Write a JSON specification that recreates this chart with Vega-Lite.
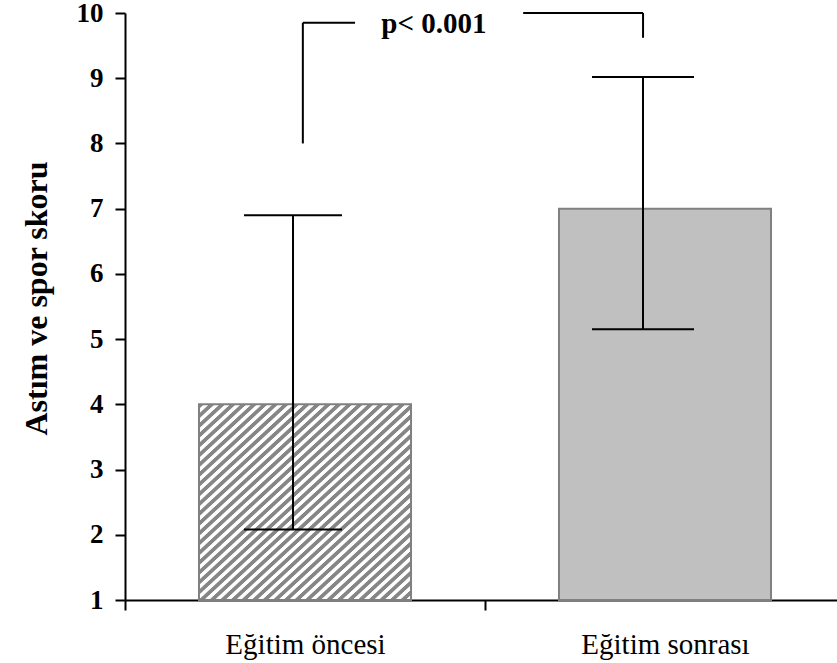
{
  "$schema": "https://vega.github.io/schema/vega-lite/v6.json",
  "width": 712,
  "height": 587,
  "autosize": "none",
  "padding": {"left": 125, "top": 13, "right": 0, "bottom": 63},
  "background": "white",
  "config": {
    "view": {"stroke": null},
    "font": "Liberation Serif",
    "style": {
      "guide-label": {"font": "Liberation Serif", "fill": "black"},
      "guide-title": {"font": "Liberation Serif", "fill": "black"}
    }
  },
  "datasets": {
    "scores": [
      {"group": "Eğitim öncesi", "mean": 4, "low": 2.08, "high": 6.9},
      {"group": "Eğitim sonrası", "mean": 7, "low": 5.15, "high": 9.02}
    ],
    "bracket": [
      {"x": 0.494, "x2": 0.494, "y": 8.0, "y2": 9.85},
      {"x": 0.494, "x2": 0.639, "y": 9.85, "y2": 9.85},
      {"x": 1.106, "x2": 1.439, "y": 10.0, "y2": 10.0},
      {"x": 1.439, "x2": 1.439, "y": 10.0, "y2": 9.62}
    ],
    "note": [
      {"x": 0.858, "y": 9.69, "label": "p< 0.001"}
    ]
  },
  "layer": [
    {
      "data": {"name": "scores"},
      "encoding": {
        "x": {
          "field": "group",
          "type": "nominal",
          "sort": ["Eğitim öncesi", "Eğitim sonrası"],
          "scale": {"range": [0, 720], "paddingInner": 0, "paddingOuter": 0},
          "axis": {
            "title": null,
            "labelAngle": 0,
            "labelFont": "Liberation Serif",
            "labelFontSize": 29,
            "labelFontWeight": "normal",
            "labelColor": "black",
            "labelBaseline": "alphabetic",
            "labelPadding": 43,
            "domainColor": "black",
            "domainWidth": 2,
            "tickColor": "black",
            "tickWidth": 2,
            "tickSize": 10,
            "tickBand": "extent",
            "grid": false
          }
        }
      },
      "layer": [
        {
          "transform": [{"filter": "datum.group === 'Eğitim öncesi'"}],
          "mark": {
            "type": "bar",
            "width": {"band": 0.589},
            "stroke": "#808080",
            "strokeWidth": 2,
            "fill": {
              "gradient": "linear",
              "x1": 0, "y1": 0, "x2": 1, "y2": 1,
              "stops": [
                {"offset": 0, "color": "#868686"}, {"offset": 0.0105, "color": "#868686"}, {"offset": 0.013, "color": "#ffffff"}, {"offset": 0.0225, "color": "#ffffff"},
                {"offset": 0.025, "color": "#868686"}, {"offset": 0.0355, "color": "#868686"}, {"offset": 0.038, "color": "#ffffff"}, {"offset": 0.0475, "color": "#ffffff"},
                {"offset": 0.05, "color": "#868686"}, {"offset": 0.0605, "color": "#868686"}, {"offset": 0.063, "color": "#ffffff"}, {"offset": 0.0725, "color": "#ffffff"},
                {"offset": 0.075, "color": "#868686"}, {"offset": 0.0855, "color": "#868686"}, {"offset": 0.088, "color": "#ffffff"}, {"offset": 0.0975, "color": "#ffffff"},
                {"offset": 0.1, "color": "#868686"}, {"offset": 0.1105, "color": "#868686"}, {"offset": 0.113, "color": "#ffffff"}, {"offset": 0.1225, "color": "#ffffff"},
                {"offset": 0.125, "color": "#868686"}, {"offset": 0.1355, "color": "#868686"}, {"offset": 0.138, "color": "#ffffff"}, {"offset": 0.1475, "color": "#ffffff"},
                {"offset": 0.15, "color": "#868686"}, {"offset": 0.1605, "color": "#868686"}, {"offset": 0.163, "color": "#ffffff"}, {"offset": 0.1725, "color": "#ffffff"},
                {"offset": 0.175, "color": "#868686"}, {"offset": 0.1855, "color": "#868686"}, {"offset": 0.188, "color": "#ffffff"}, {"offset": 0.1975, "color": "#ffffff"},
                {"offset": 0.2, "color": "#868686"}, {"offset": 0.2105, "color": "#868686"}, {"offset": 0.213, "color": "#ffffff"}, {"offset": 0.2225, "color": "#ffffff"},
                {"offset": 0.225, "color": "#868686"}, {"offset": 0.2355, "color": "#868686"}, {"offset": 0.238, "color": "#ffffff"}, {"offset": 0.2475, "color": "#ffffff"},
                {"offset": 0.25, "color": "#868686"}, {"offset": 0.2605, "color": "#868686"}, {"offset": 0.263, "color": "#ffffff"}, {"offset": 0.2725, "color": "#ffffff"},
                {"offset": 0.275, "color": "#868686"}, {"offset": 0.2855, "color": "#868686"}, {"offset": 0.288, "color": "#ffffff"}, {"offset": 0.2975, "color": "#ffffff"},
                {"offset": 0.3, "color": "#868686"}, {"offset": 0.3105, "color": "#868686"}, {"offset": 0.313, "color": "#ffffff"}, {"offset": 0.3225, "color": "#ffffff"},
                {"offset": 0.325, "color": "#868686"}, {"offset": 0.3355, "color": "#868686"}, {"offset": 0.338, "color": "#ffffff"}, {"offset": 0.3475, "color": "#ffffff"},
                {"offset": 0.35, "color": "#868686"}, {"offset": 0.3605, "color": "#868686"}, {"offset": 0.363, "color": "#ffffff"}, {"offset": 0.3725, "color": "#ffffff"},
                {"offset": 0.375, "color": "#868686"}, {"offset": 0.3855, "color": "#868686"}, {"offset": 0.388, "color": "#ffffff"}, {"offset": 0.3975, "color": "#ffffff"},
                {"offset": 0.4, "color": "#868686"}, {"offset": 0.4105, "color": "#868686"}, {"offset": 0.413, "color": "#ffffff"}, {"offset": 0.4225, "color": "#ffffff"},
                {"offset": 0.425, "color": "#868686"}, {"offset": 0.4355, "color": "#868686"}, {"offset": 0.438, "color": "#ffffff"}, {"offset": 0.4475, "color": "#ffffff"},
                {"offset": 0.45, "color": "#868686"}, {"offset": 0.4605, "color": "#868686"}, {"offset": 0.463, "color": "#ffffff"}, {"offset": 0.4725, "color": "#ffffff"},
                {"offset": 0.475, "color": "#868686"}, {"offset": 0.4855, "color": "#868686"}, {"offset": 0.488, "color": "#ffffff"}, {"offset": 0.4975, "color": "#ffffff"},
                {"offset": 0.5, "color": "#868686"}, {"offset": 0.5105, "color": "#868686"}, {"offset": 0.513, "color": "#ffffff"}, {"offset": 0.5225, "color": "#ffffff"},
                {"offset": 0.525, "color": "#868686"}, {"offset": 0.5355, "color": "#868686"}, {"offset": 0.538, "color": "#ffffff"}, {"offset": 0.5475, "color": "#ffffff"},
                {"offset": 0.55, "color": "#868686"}, {"offset": 0.5605, "color": "#868686"}, {"offset": 0.563, "color": "#ffffff"}, {"offset": 0.5725, "color": "#ffffff"},
                {"offset": 0.575, "color": "#868686"}, {"offset": 0.5855, "color": "#868686"}, {"offset": 0.588, "color": "#ffffff"}, {"offset": 0.5975, "color": "#ffffff"},
                {"offset": 0.6, "color": "#868686"}, {"offset": 0.6105, "color": "#868686"}, {"offset": 0.613, "color": "#ffffff"}, {"offset": 0.6225, "color": "#ffffff"},
                {"offset": 0.625, "color": "#868686"}, {"offset": 0.6355, "color": "#868686"}, {"offset": 0.638, "color": "#ffffff"}, {"offset": 0.6475, "color": "#ffffff"},
                {"offset": 0.65, "color": "#868686"}, {"offset": 0.6605, "color": "#868686"}, {"offset": 0.663, "color": "#ffffff"}, {"offset": 0.6725, "color": "#ffffff"},
                {"offset": 0.675, "color": "#868686"}, {"offset": 0.6855, "color": "#868686"}, {"offset": 0.688, "color": "#ffffff"}, {"offset": 0.6975, "color": "#ffffff"},
                {"offset": 0.7, "color": "#868686"}, {"offset": 0.7105, "color": "#868686"}, {"offset": 0.713, "color": "#ffffff"}, {"offset": 0.7225, "color": "#ffffff"},
                {"offset": 0.725, "color": "#868686"}, {"offset": 0.7355, "color": "#868686"}, {"offset": 0.738, "color": "#ffffff"}, {"offset": 0.7475, "color": "#ffffff"},
                {"offset": 0.75, "color": "#868686"}, {"offset": 0.7605, "color": "#868686"}, {"offset": 0.763, "color": "#ffffff"}, {"offset": 0.7725, "color": "#ffffff"},
                {"offset": 0.775, "color": "#868686"}, {"offset": 0.7855, "color": "#868686"}, {"offset": 0.788, "color": "#ffffff"}, {"offset": 0.7975, "color": "#ffffff"},
                {"offset": 0.8, "color": "#868686"}, {"offset": 0.8105, "color": "#868686"}, {"offset": 0.813, "color": "#ffffff"}, {"offset": 0.8225, "color": "#ffffff"},
                {"offset": 0.825, "color": "#868686"}, {"offset": 0.8355, "color": "#868686"}, {"offset": 0.838, "color": "#ffffff"}, {"offset": 0.8475, "color": "#ffffff"},
                {"offset": 0.85, "color": "#868686"}, {"offset": 0.8605, "color": "#868686"}, {"offset": 0.863, "color": "#ffffff"}, {"offset": 0.8725, "color": "#ffffff"},
                {"offset": 0.875, "color": "#868686"}, {"offset": 0.8855, "color": "#868686"}, {"offset": 0.888, "color": "#ffffff"}, {"offset": 0.8975, "color": "#ffffff"},
                {"offset": 0.9, "color": "#868686"}, {"offset": 0.9105, "color": "#868686"}, {"offset": 0.913, "color": "#ffffff"}, {"offset": 0.9225, "color": "#ffffff"},
                {"offset": 0.925, "color": "#868686"}, {"offset": 0.9355, "color": "#868686"}, {"offset": 0.938, "color": "#ffffff"}, {"offset": 0.9475, "color": "#ffffff"},
                {"offset": 0.95, "color": "#868686"}, {"offset": 0.9605, "color": "#868686"}, {"offset": 0.963, "color": "#ffffff"}, {"offset": 0.9725, "color": "#ffffff"},
                {"offset": 0.975, "color": "#868686"}, {"offset": 0.9855, "color": "#868686"}, {"offset": 0.988, "color": "#ffffff"}, {"offset": 0.9975, "color": "#ffffff"}
              ]
            }
          },
          "encoding": {
            "y": {
              "field": "mean",
              "type": "quantitative",
              "title": "Astım ve spor skoru",
              "scale": {"domain": [1, 10], "nice": false, "zero": false},
              "axis": {
                "values": [1, 2, 3, 4, 5, 6, 7, 8, 9, 10],
                "format": "d",
                "labelFont": "Liberation Serif",
                "labelFontSize": 27,
                "labelFontWeight": "bold",
                "labelColor": "black",
                "labelPadding": 12,
                "domainColor": "black",
                "domainWidth": 2,
                "tickColor": "black",
                "tickWidth": 2,
                "tickSize": 10,
                "grid": false,
                "titleFont": "Liberation Serif",
                "titleFontSize": 32,
                "titleFontWeight": "bold",
                "titleColor": "black",
                "titleAngle": -90,
                "titleAlign": "center",
                "titleBaseline": "alphabetic",
                "titleX": -79,
                "titleY": 285
              }
            },
            "y2": {"datum": 1}
          }
        },
        {
          "transform": [{"filter": "datum.group === 'Eğitim sonrası'"}],
          "mark": {"type": "bar", "width": {"band": 0.589}, "fill": "#c0c0c0", "stroke": "#808080", "strokeWidth": 2},
          "encoding": {
            "y": {"field": "mean", "type": "quantitative", "title": "Astım ve spor skoru"},
            "y2": {"datum": 1}
          }
        },
        {
          "transform": [{"filter": "datum.group === 'Eğitim öncesi'"}],
          "layer": [
            {
              "mark": {"type": "rule", "color": "black", "strokeWidth": 2, "xOffset": -12},
              "encoding": {
                "y": {"field": "low", "type": "quantitative", "title": "Astım ve spor skoru"},
                "y2": {"field": "high"}
              }
            },
            {
              "mark": {"type": "tick", "orient": "horizontal", "color": "black", "size": 98, "thickness": 2, "opacity": 1, "xOffset": -12},
              "encoding": {"y": {"field": "low", "type": "quantitative", "title": "Astım ve spor skoru"}}
            },
            {
              "mark": {"type": "tick", "orient": "horizontal", "color": "black", "size": 98, "thickness": 2, "opacity": 1, "xOffset": -12},
              "encoding": {"y": {"field": "high", "type": "quantitative", "title": "Astım ve spor skoru"}}
            }
          ]
        },
        {
          "transform": [{"filter": "datum.group === 'Eğitim sonrası'"}],
          "layer": [
            {
              "mark": {"type": "rule", "color": "black", "strokeWidth": 2, "xOffset": -22},
              "encoding": {
                "y": {"field": "low", "type": "quantitative", "title": "Astım ve spor skoru"},
                "y2": {"field": "high"}
              }
            },
            {
              "mark": {"type": "tick", "orient": "horizontal", "color": "black", "size": 102, "thickness": 2, "opacity": 1, "xOffset": -22},
              "encoding": {"y": {"field": "low", "type": "quantitative", "title": "Astım ve spor skoru"}}
            },
            {
              "mark": {"type": "tick", "orient": "horizontal", "color": "black", "size": 102, "thickness": 2, "opacity": 1, "xOffset": -22},
              "encoding": {"y": {"field": "high", "type": "quantitative", "title": "Astım ve spor skoru"}}
            }
          ]
        }
      ]
    },
    {
      "layer": [
        {
          "data": {"name": "bracket"},
          "mark": {"type": "rule", "color": "black", "strokeWidth": 2},
          "encoding": {
            "x": {"field": "x", "type": "quantitative", "scale": {"domain": [0, 2], "range": [0, 720], "nice": false, "zero": false}, "axis": null},
            "x2": {"field": "x2"},
            "y": {"field": "y", "type": "quantitative", "title": "Astım ve spor skoru"},
            "y2": {"field": "y2"}
          }
        },
        {
          "data": {"name": "note"},
          "mark": {"type": "text", "font": "Liberation Serif", "fontSize": 29, "fontWeight": "bold", "color": "black", "align": "center", "baseline": "alphabetic"},
          "encoding": {
            "x": {"field": "x", "type": "quantitative", "axis": null},
            "y": {"field": "y", "type": "quantitative", "title": "Astım ve spor skoru"},
            "text": {"field": "label"}
          }
        }
      ]
    }
  ],
  "resolve": {"scale": {"x": "independent"}}
}
